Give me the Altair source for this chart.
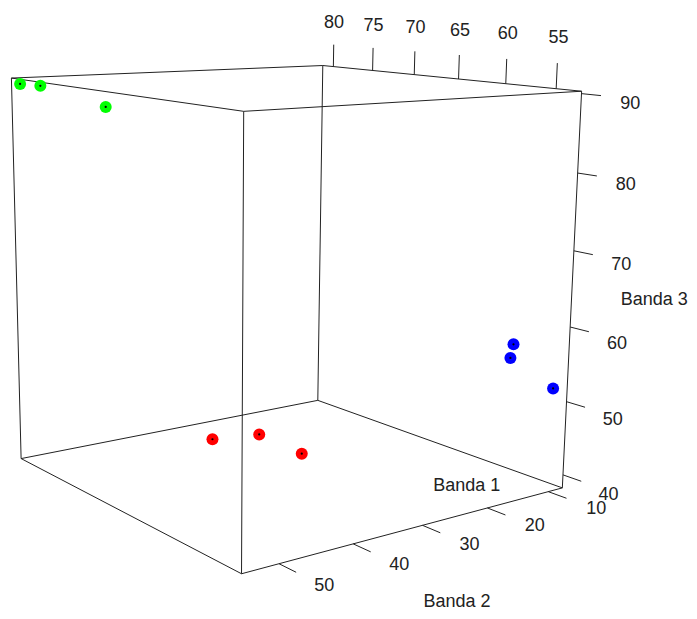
import itertools
import numpy as np
import pandas as pd
import altair as alt

# ---------------- data ----------------
CLASSES = ["g", "g", "g", "r", "r", "r", "b", "b", "b"]
BANDA1 = [80.1, 78.0, 71.1, 74.5, 76.1, 66.2, 57.3, 58.4, 52.6]
BANDA2 = [54.8, 54.0, 52.0, 33.6, 24.3, 29.8, 9.0, 7.6, 10.0]
BANDA3 = [89.7, 89.7, 87.9, 40.0, 38.2, 41.0, 56.2, 53.7, 52.2]

# axis ranges (bounding box) and tick labels
B1_RANGE = [52.6, 81.4]
B2_RANGE = [7.6, 54.8]
B3_RANGE = [38.2, 90.3]
B1_TICKS = [55, 60, 65, 70, 75, 80]
B2_TICKS = [10, 20, 30, 40, 50]
B3_TICKS = [40, 50, 60, 70, 80, 90]
TITLES = ["Banda 1", "Banda 2", "Banda 3"]

# ---------------- camera (3x4 perspective view matrix) ----------------
VIEW = np.array([
    [-8.94473, -10.51737, -0.2869252, 1346.184],
    [-0.5824458, 0.08819288, -10.75116, 1121.554],
    [0.009141354, -0.004271553, -0.001381448, 1.0],
])

lo1, hi1 = B1_RANGE; lo2, hi2 = B2_RANGE; lo3, hi3 = B3_RANGE
d1, d2, d3 = hi1 - lo1, hi2 - lo2, hi3 - lo3

W, H = 681, 603
XS = alt.Scale(domain=[8, 8 + W], nice=False, zero=False)
YS = alt.Scale(domain=[8, 8 + H], nice=False, zero=False, reverse=True)


def ex(row, a, b, c):
    P = VIEW
    num = f"({P[row,0]:.10g}*datum.{a}+{P[row,1]:.10g}*datum.{b}+{P[row,2]:.10g}*datum.{c}+{P[row,3]:.10g})"
    den = f"({P[2,0]:.10g}*datum.{a}+{P[2,1]:.10g}*datum.{b}+{P[2,2]:.10g}*datum.{c}+{P[2,3]:.10g})"
    return num + "/" + den


def enc_xy():
    return dict(x=alt.X("px:Q", scale=XS, axis=None), y=alt.Y("py:Q", scale=YS, axis=None))


def seg_chart(df, color="#222222", width=1.0):
    return alt.Chart(df).transform_calculate(
        px=ex(0, "a1", "a2", "a3"), py=ex(1, "a1", "a2", "a3"),
        qx=ex(0, "e1", "e2", "e3"), qy=ex(1, "e1", "e2", "e3"),
    ).mark_rule(color=color, strokeWidth=width).encode(
        **enc_xy(), x2="qx:Q", y2="qy:Q")


def text_chart(df, size):
    return alt.Chart(df).transform_calculate(
        px=ex(0, "a1", "a2", "a3"), py=ex(1, "a1", "a2", "a3"),
    ).mark_text(font="Liberation Sans", fontSize=size, color="#222222",
                align="center", baseline="middle").encode(**enc_xy(), text="txt:N")


# box edges
corners = list(itertools.product(B1_RANGE, B2_RANGE, B3_RANGE))
edges = []
for p, q in itertools.combinations(corners, 2):
    if sum(1 for i in range(3) if p[i] != q[i]) == 1:
        edges.append(dict(a1=p[0], a2=p[1], a3=p[2], e1=q[0], e2=q[1], e3=q[2]))
edges_df = pd.DataFrame(edges)

# ticks and tick labels
TK = 0.062
ticks = []; labels = []
for t in B1_TICKS:
    ticks.append(dict(a1=t, a2=lo2, a3=hi3, e1=t, e2=lo2, e3=hi3 + TK * d3))
    labels.append(dict(a1=t, a2=lo2, a3=hi3 + 0.123 * d3, txt=str(t)))
for t in B2_TICKS:
    ticks.append(dict(a1=lo1, a2=t, a3=lo3, e1=lo1 - TK * d1, e2=t, e3=lo3))
    labels.append(dict(a1=lo1 - 0.16 * d1, a2=t, a3=lo3, txt=str(t)))
for t in B3_TICKS:
    ticks.append(dict(a1=lo1, a2=lo2, a3=t, e1=lo1 - TK * d1, e2=lo2, e3=t))
    labels.append(dict(a1=lo1 - 0.153 * d1, a2=lo2, a3=t - 0.0115 * d3, txt=str(t)))
ticks_df = pd.DataFrame(ticks)

titles = [
    dict(a1=(lo1 + hi1) / 2, a2=lo2 - 0.1485 * d2, a3=lo3 - 0.1616 * d3, txt=TITLES[0]),
    dict(a1=lo1 - 0.152 * d1, a2=(lo2 + hi2) / 2, a3=lo3 - 0.134 * d3, txt=TITLES[1]),
    dict(a1=lo1 - 0.160 * d1, a2=lo2 - 0.119 * d2, a3=(lo3 + hi3) / 2, txt=TITLES[2]),
]
text_df = pd.DataFrame(labels + titles)

# points
pts_df = pd.DataFrame(dict(a1=BANDA1, a2=BANDA2, a3=BANDA3, cls=CLASSES))
pbase = alt.Chart(pts_df).transform_calculate(
    px=ex(0, "a1", "a2", "a3"), py=ex(1, "a1", "a2", "a3"))
pts = pbase.mark_circle(size=144, opacity=1).encode(
    **enc_xy(),
    color=alt.Color("cls:N", scale=alt.Scale(domain=["g", "r", "b"],
                                             range=["#00ff00", "#ff0000", "#0000ff"]), legend=None))
dots = pbase.mark_circle(size=5, opacity=1, color="black").encode(**enc_xy())

chart = alt.layer(
    seg_chart(edges_df), seg_chart(ticks_df), text_chart(text_df, 18), pts, dots
).properties(width=W, height=H, padding=0, autosize="none").configure_view(stroke=None)

chart.save("out.html", embed_options={"renderer": "svg", "actions": False})
